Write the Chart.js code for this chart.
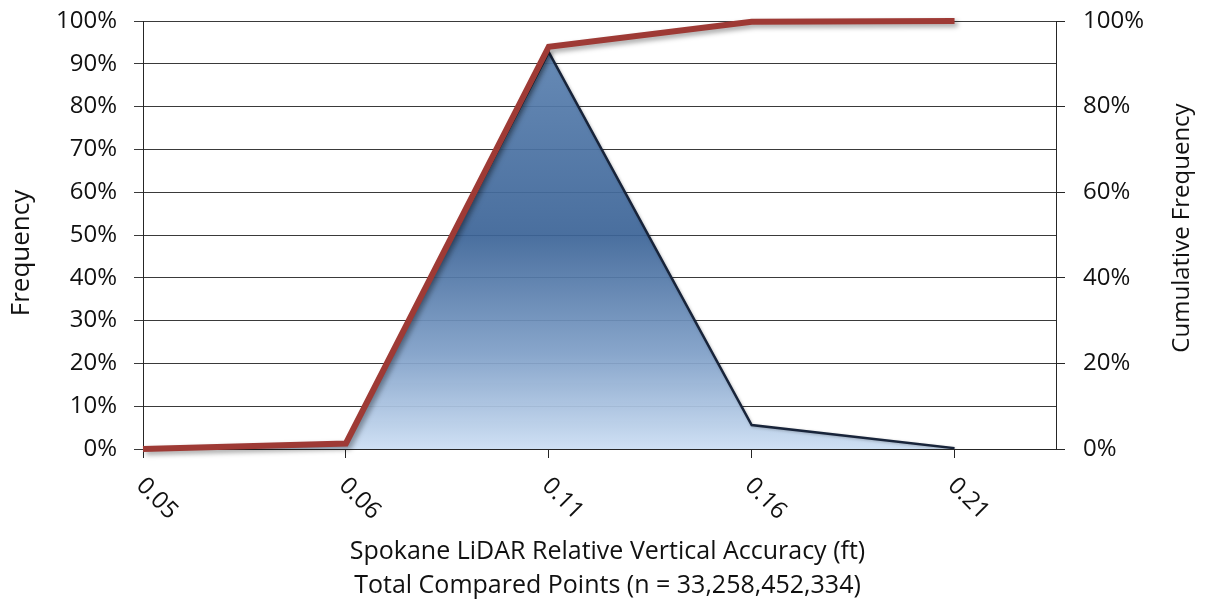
<!DOCTYPE html>
<html>
<head>
<meta charset="utf-8">
<script src="https://cdn.jsdelivr.net/npm/chart.js@4/dist/chart.umd.min.js"></script>
<style>
  html, body { margin: 0; padding: 0; background: #ffffff; }
  #wrap { width: 1209px; height: 608px; position: relative; }
</style>
</head>
<body>
<div id="wrap"><canvas id="chart" width="1209" height="608"></canvas></div>
<script>
// Accuracy bins (ft)
const categories = ['0.05', '0.06', '0.11', '0.16', '0.21'];
// Share of compared points falling in each bin (%)
const frequency = [0, 1.3, 92.7, 5.6, 0.2];
// Running total of the shares (%)
const cumulative = [0, 1.3, 94, 99.8, 100];

const yTitle = 'Frequency';
const y2Title = 'Cumulative Frequency';
const xTitleLines = ['Spokane LiDAR Relative Vertical Accuracy (ft)', 'Total Compared Points (n = 33,258,452,334)'];

const FONT = '"Open Sans", Lato, sans-serif';
const TEXT = '#111111';
const AXIS = '#262626';

function areaGradient(context) {
  const chart = context.chart;
  const area = chart.chartArea;
  if (!area) return '#3e6698';
  const g = chart.ctx.createLinearGradient(0, area.top, 0, area.bottom);
  g.addColorStop(0.0, 'rgba(96,134,180,0.93)');
  g.addColorStop(0.50, 'rgba(60,100,151,0.93)');
  g.addColorStop(0.78, 'rgba(128,160,200,0.93)');
  g.addColorStop(1.0, 'rgba(204,222,243,0.95)');
  return g;
}

// soft drop shadow under the cumulative line and the histogram outline
const shadowPlugin = {
  id: 'shadow',
  beforeDatasetDraw(chart, args) {
    const ctx = chart.ctx;
    ctx.save();
    if (args.index === 1) {
      ctx.shadowColor = 'rgba(0,0,0,0.35)';
      ctx.shadowBlur = 5;
      ctx.shadowOffsetX = 3;
      ctx.shadowOffsetY = 3;
    } else {
      ctx.shadowColor = 'rgba(0,0,0,0.25)';
      ctx.shadowBlur = 3;
      ctx.shadowOffsetX = 1;
      ctx.shadowOffsetY = 1;
    }
  },
  afterDatasetDraw(chart) {
    chart.ctx.restore();
  }
};

// slanted bin labels and axis titles
const labelPlugin = {
  id: 'labels',
  afterDraw(chart) {
    const ctx = chart.ctx;
    const xs = chart.scales.x;
    const area = chart.chartArea;
    ctx.save();
    ctx.fillStyle = TEXT;
    ctx.font = '24px ' + FONT;
    ctx.textAlign = 'left';
    ctx.textBaseline = 'middle';
    categories.forEach((c, i) => {
      const px = xs.getPixelForValue(i);
      ctx.save();
      ctx.translate(px - 3, area.bottom + 33);
      ctx.rotate(Math.PI / 4);
      ctx.fillText(c, 0, 0);
      ctx.restore();
    });

    ctx.font = '25px ' + FONT;
    ctx.textAlign = 'center';
    ctx.textBaseline = 'middle';
    const cx = (area.left + area.right) / 2 + 8;
    ctx.fillText(xTitleLines[0], cx, 552);
    ctx.fillText(xTitleLines[1], cx, 586);

    ctx.save();
    ctx.font = '26px ' + FONT;
    ctx.translate(22, 253);
    ctx.rotate(-Math.PI / 2);
    ctx.fillText(yTitle, 0, 0);
    ctx.restore();

    ctx.save();
    ctx.font = '24px ' + FONT;
    ctx.translate(1182, 228);
    ctx.rotate(-Math.PI / 2);
    ctx.fillText(y2Title, 0, 0);
    ctx.restore();
    ctx.restore();
  }
};

const pts = arr => arr.map((v, i) => ({ x: i, y: v }));

// vertical axes: fixed widths, no extra room reserved above/below for the end labels
const fixVertical = w => s => { s.width = w; s.paddingTop = 0; s.paddingBottom = 0; };

new Chart(document.getElementById('chart'), {
  type: 'line',
  data: {
    datasets: [
      {
        label: 'Frequency',
        data: pts(frequency),
        yAxisID: 'y',
        fill: 'origin',
        backgroundColor: areaGradient,
        borderColor: '#18243a',
        borderWidth: 2.5,
        borderJoinStyle: 'miter',
        pointRadius: 0,
        tension: 0,
        order: 2
      },
      {
        label: 'Cumulative Frequency',
        data: pts(cumulative),
        yAxisID: 'y1',
        fill: false,
        borderColor: '#9e3a35',
        borderWidth: 6,
        borderJoinStyle: 'miter',
        borderCapStyle: 'butt',
        pointRadius: 0,
        tension: 0,
        clip: 12,
        order: 1
      }
    ]
  },
  options: {
    responsive: false,
    animation: false,
    devicePixelRatio: 1,
    layout: { padding: { top: 21, left: 0, right: 0, bottom: 0 } },
    plugins: { legend: { display: false }, tooltip: { enabled: false } },
    scales: {
      x: {
        type: 'linear',
        min: 0,
        max: 4.5,
        afterFit(s) { s.height = 159; },
        ticks: { stepSize: 1, includeBounds: false, display: false },
        grid: { drawOnChartArea: false, drawTicks: true, tickLength: 9, color: AXIS, lineWidth: 1 },
        border: { display: true, color: AXIS, width: 1 }
      },
      y: {
        position: 'left',
        min: 0,
        max: 100,
        afterFit: fixVertical(143),
        ticks: {
          stepSize: 10,
          padding: 17,
          color: TEXT,
          font: { family: FONT, size: 24 },
          callback: v => v + '%'
        },
        grid: { color: '#3a3a3a', lineWidth: 1, tickLength: 9 },
        border: { display: true, color: AXIS, width: 1 }
      },
      y1: {
        position: 'right',
        min: 0,
        max: 100,
        afterFit: fixVertical(153),
        ticks: {
          stepSize: 20,
          padding: 18,
          color: TEXT,
          font: { family: FONT, size: 24 },
          callback: v => v + '%'
        },
        grid: { drawOnChartArea: false, color: AXIS, lineWidth: 1, tickLength: 9 },
        border: { display: true, color: AXIS, width: 1 }
      }
    }
  },
  plugins: [shadowPlugin, labelPlugin]
});
</script>
</body>
</html>
